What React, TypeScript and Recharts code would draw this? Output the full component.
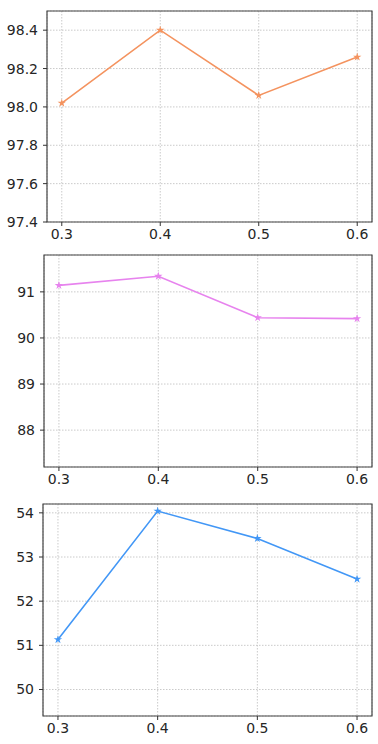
import React from 'react';
import { LineChart, Line, XAxis, YAxis, CartesianGrid, ReferenceArea, Symbols } from 'recharts';

const xValues = [0.3, 0.4, 0.5, 0.6];
const xTicks = [0.3, 0.4, 0.5, 0.6];

const accTop = [98.02, 98.4, 98.06, 98.26];
const accMid = [91.14, 91.34, 90.44, 90.42];
const accBottom = [51.13, 54.04, 53.42, 52.5];

const ticksTop = [97.4, 97.6, 97.8, 98.0, 98.2, 98.4];
const ticksMid = [88, 89, 90, 91];
const ticksBottom = [50, 51, 52, 53, 54];

const X_DOMAIN: [number, number] = [0.285, 0.615];

interface PanelProps {
  values: number[];
  ticks: number[];
  domain: [number, number];
  color: string;
  decimals: number;
  top: number;
  height: number;
  marginTop: number;
  left: number;
}

const tickStyle = { fontSize: 14, fill: '#262626', fontFamily: 'DejaVu Sans' };

const Star = (props: any) => {
  const { cx, cy, stroke, index } = props;
  if (cx == null || cy == null) return null;
  return <Symbols key={index} cx={cx} cy={cy} type="star" size={22} fill={stroke} stroke="none" />;
};

const Panel: React.FC<PanelProps> = ({ values, ticks, domain, color, decimals, top, height, marginTop, left }) => {
  const data = xValues.map((x, i) => ({ x, y: values[i] }));
  return (
    <div style={{ position: 'absolute', left: 0, top }}>
      <LineChart width={378} height={height} data={data} margin={{ top: marginTop, right: 6, bottom: 0, left: 0 }}>
        <CartesianGrid stroke="#bdbdbd" strokeDasharray="1.5 1.5" strokeWidth={0.8} />
        <XAxis
          dataKey="x"
          type="number"
          domain={X_DOMAIN}
          ticks={xTicks}
          tickFormatter={(v: number) => v.toFixed(1)}
          height={28}
          tickSize={4}
          tickMargin={3}
          tick={tickStyle}
          axisLine={false}
          tickLine={{ stroke: '#333' }}
          allowDataOverflow
        />
        <YAxis
          type="number"
          domain={domain}
          ticks={ticks}
          tickFormatter={(v: number) => v.toFixed(decimals)}
          width={left}
          tickSize={4}
          tickMargin={5}
          tick={tickStyle}
          axisLine={false}
          tickLine={{ stroke: '#333' }}
          allowDataOverflow
        />
        <ReferenceArea
          x1={X_DOMAIN[0]}
          x2={X_DOMAIN[1]}
          y1={domain[0]}
          y2={domain[1]}
          fill="none"
          stroke="#444"
          strokeWidth={1.2}
          ifOverflow="visible"
        />
        <Line
          type="linear"
          dataKey="y"
          stroke={color}
          strokeWidth={1.6}
          dot={<Star />}
          activeDot={false}
          isAnimationActive={false}
        />
      </LineChart>
    </div>
  );
};

export default function App() {
  return (
    <div style={{ position: 'fixed', left: 0, top: 0, width: 378, height: 744, background: '#fff' }}>
      <Panel values={accTop} ticks={ticksTop} domain={[97.4, 98.5]} color="#f4935f" decimals={1} top={0} height={250} marginTop={11} left={47} />
      <Panel values={accMid} ticks={ticksMid} domain={[87.2, 91.8]} color="#e783ee" decimals={0} top={250} height={245} marginTop={5} left={44} />
      <Panel values={accBottom} ticks={ticksBottom} domain={[49.4, 54.2]} color="#4297f6" decimals={0} top={490} height={254} marginTop={14} left={43} />
    </div>
  );
}
